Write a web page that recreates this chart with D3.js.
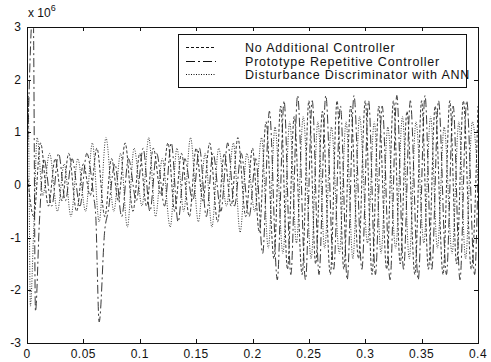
<!DOCTYPE html>
<html>
<head>
<meta charset="utf-8">
<script src="https://cdn.jsdelivr.net/npm/d3@7/dist/d3.min.js"></script>
<style>
  html, body { margin: 0; padding: 0; background: #fff; }
  svg { display: block; }
  text { font-family: "Liberation Sans", Arial, sans-serif; fill: #111; }
</style>
</head>
<body>
<svg id="chart" width="491" height="362"></svg>
<script>
// Turning points of each response (time in s, value in units of 1e6)
const tNoCtrl = [0.000, 0.006, 0.012, 0.019, 0.025, 0.031, 0.037, 0.044, 0.050, 0.056,
  0.062, 0.069, 0.075, 0.081, 0.087, 0.094, 0.100, 0.106, 0.112, 0.119,
  0.125, 0.131, 0.137, 0.144, 0.150, 0.156, 0.162, 0.169, 0.175, 0.181,
  0.187, 0.194, 0.200, 0.206, 0.212, 0.219, 0.225, 0.231, 0.237, 0.244,
  0.250, 0.256, 0.262, 0.269, 0.275, 0.281, 0.287, 0.294, 0.300, 0.306,
  0.312, 0.319, 0.325, 0.331, 0.337, 0.344, 0.350, 0.356, 0.362, 0.369,
  0.375, 0.381, 0.387, 0.394, 0.400];
const vNoCtrl = [0.3, -0.6, 0.8, -0.4, 0.5, -0.3, 0.6, -0.5, 0.4, -0.2,
  0.7, -0.6, 0.5, -0.3, 0.8, -0.5, 0.6, -0.4, 0.7, -0.2,
  0.8, -0.5, 0.6, -0.6, 0.7, -0.3, 0.8, -0.7, 0.6, -0.4,
  0.9, -0.6, 0.7, -0.9, 1.2, -1.4, 1.5, -1.6, 1.3, -1.7,
  1.6, -1.5, 1.4, -1.7, 1.6, -1.6, 1.5, -1.4, 1.6, -1.7,
  1.5, -1.6, 1.6, -1.5, 1.4, -1.7, 1.6, -1.6, 1.5, -1.7,
  1.6, -1.5, 1.6, -1.6, 1.5];

const tRepet = [0.000, 0.0055, 0.0075, 0.011, 0.015, 0.022, 0.028, 0.034, 0.040, 0.047,
  0.053, 0.059, 0.061, 0.064, 0.069, 0.072, 0.078, 0.084, 0.090, 0.097,
  0.103, 0.109, 0.115, 0.122, 0.128, 0.134, 0.140, 0.147, 0.153, 0.159,
  0.165, 0.172, 0.178, 0.184, 0.190, 0.197, 0.203, 0.209, 0.215, 0.222,
  0.228, 0.234, 0.240, 0.247, 0.253, 0.259, 0.265, 0.272, 0.278, 0.284,
  0.290, 0.297, 0.303, 0.309, 0.315, 0.322, 0.328, 0.334, 0.340, 0.347,
  0.353, 0.359, 0.365, 0.372, 0.378, 0.384, 0.390, 0.397, 0.400];
const vRepet = [0.2, 3.4, -2.4, -0.7, 0.5, -0.4, 0.6, -0.3, 0.5, -0.4,
  0.6, -0.2, -0.6, -2.6, -0.85, -0.5, 0.4, -0.6, 0.5, -0.3,
  0.7, -0.5, 0.6, -0.4, 0.8, -0.7, 0.5, -0.3, 0.7, -0.6,
  0.6, -0.5, 0.8, -0.4, 0.6, -0.6, 0.5, -1.3, 1.4, -1.8,
  1.6, -1.7, 1.7, -1.8, 1.6, -1.7, 1.7, -1.6, 1.5, -1.8,
  1.7, -1.6, 1.6, -1.7, 1.5, -1.8, 1.7, -1.6, 1.6, -1.8,
  1.7, -1.6, 1.6, -1.7, 1.5, -1.8, 1.6, -1.7, 0.2];

const tAnn = [0.000, 0.001, 0.003, 0.006, 0.009, 0.014, 0.020, 0.027, 0.033, 0.039,
  0.045, 0.052, 0.058, 0.064, 0.070, 0.077, 0.083, 0.089, 0.095, 0.102,
  0.108, 0.114, 0.120, 0.127, 0.133, 0.139, 0.145, 0.152, 0.158, 0.164,
  0.170, 0.177, 0.183, 0.189, 0.195, 0.202, 0.208, 0.214, 0.220, 0.227,
  0.233, 0.239, 0.245, 0.252, 0.258, 0.264, 0.270, 0.277, 0.283, 0.289,
  0.295, 0.302, 0.308, 0.314, 0.320, 0.327, 0.333, 0.339, 0.345, 0.352,
  0.358, 0.364, 0.370, 0.377, 0.383, 0.389, 0.395, 0.400];
const vAnn = [0.0, 1.7, -2.3, -0.8, 0.9, -0.2, 0.6, -0.5, 0.4, -0.6,
  0.5, -0.5, 0.8, -0.7, 0.9, -0.5, 0.6, -0.8, 0.7, -0.4,
  0.9, -0.6, 0.5, -0.8, 0.7, -0.5, 0.9, -0.7, 0.6, -0.8,
  0.7, -0.4, 0.8, -0.9, 0.6, -0.5, 0.9, -1.2, 1.1, -1.3,
  1.2, -1.1, 1.3, -1.4, 1.2, -1.2, 1.1, -1.3, 1.2, -1.4,
  1.3, -1.1, 1.2, -1.3, 1.1, -1.2, 1.3, -1.4, 1.2, -1.1,
  1.3, -1.2, 1.1, -1.3, 1.2, -1.4, 1.2, 0.1];

const seriesNames = ["No Additional Controller", "Prototype Repetitive Controller", "Disturbance Discriminator with ANN"];
const xTicks = [0, 0.05, 0.1, 0.15, 0.2, 0.25, 0.3, 0.35, 0.4];
const xTickLabels = ["0", "0.05", "0.1", "0.15", "0.2", "0.25", "0.3", "0.35", "0.4"];
const yTicks = [-3, -2, -1, 0, 1, 2, 3];

const svg = d3.select("#chart");
const plot = { left: 27, right: 478, top: 27, bottom: 343 };

const x = d3.scaleLinear().domain([0, 0.4]).range([plot.left, plot.right]);
const y = d3.scaleLinear().domain([-3, 3]).range([plot.bottom, plot.top]);

svg.append("rect").attr("width", 491).attr("height", 362).attr("fill", "#fff");

svg.append("defs").append("clipPath").attr("id", "plotClip")
  .append("rect")
  .attr("x", plot.left).attr("y", plot.top)
  .attr("width", plot.right - plot.left).attr("height", plot.bottom - plot.top);

const series = [
  { name: seriesNames[0], pts: d3.zip(tNoCtrl, vNoCtrl), dash: "3,2" },
  { name: seriesNames[1], pts: d3.zip(tRepet, vRepet), dash: "9,3,2,3" },
  { name: seriesNames[2], pts: d3.zip(tAnn, vAnn), dash: "1,1.5" }
];

const line = d3.line()
  .x(d => x(d[0]))
  .y(d => y(d[1]))
  .curve(d3.curveMonotoneX);

const lines = svg.append("g").attr("clip-path", "url(#plotClip)");
series.forEach(s => {
  lines.append("path")
    .datum(s.pts)
    .attr("d", line)
    .attr("fill", "none")
    .attr("stroke", "#222")
    .attr("stroke-width", 0.9)
    .attr("stroke-dasharray", s.dash);
});

// Axes: box with inward ticks on every side
const tickLen = 4;
const axisG = svg.append("g").attr("stroke", "#111").attr("stroke-width", 1).attr("fill", "none");
axisG.append("rect")
  .attr("x", plot.left + 0.5).attr("y", plot.top + 0.5)
  .attr("width", plot.right - plot.left).attr("height", plot.bottom - plot.top);

xTicks.forEach(t => {
  const px = Math.round(x(t)) + 0.5;
  axisG.append("line").attr("x1", px).attr("x2", px).attr("y1", plot.bottom).attr("y2", plot.bottom - tickLen);
  axisG.append("line").attr("x1", px).attr("x2", px).attr("y1", plot.top).attr("y2", plot.top + tickLen);
});
yTicks.forEach(t => {
  const py = Math.round(y(t)) + 0.5;
  axisG.append("line").attr("x1", plot.left).attr("x2", plot.left + tickLen).attr("y1", py).attr("y2", py);
  axisG.append("line").attr("x1", plot.right).attr("x2", plot.right - tickLen).attr("y1", py).attr("y2", py);
});

const labels = svg.append("g").attr("font-size", 12);
xTicks.forEach((t, i) => {
  labels.append("text")
    .attr("x", x(t)).attr("y", 358)
    .attr("text-anchor", "middle")
    .attr("letter-spacing", 0.5)
    .text(xTickLabels[i]);
});
yTicks.forEach(t => {
  labels.append("text")
    .attr("x", 21).attr("y", y(t) + 4)
    .attr("text-anchor", "end")
    .text(String(t));
});

// Exponent marker above the y axis
const expo = svg.append("text").attr("x", 28).attr("y", 17).attr("font-size", 12);
expo.append("tspan").text("x 10");
expo.append("tspan").attr("dy", -6).attr("font-size", 9).text("6");

// Legend
const lg = svg.append("g");
lg.append("rect")
  .attr("x", 178.5).attr("y", 34.5).attr("width", 288).attr("height", 53)
  .attr("fill", "#fff").attr("stroke", "#111").attr("stroke-width", 1);
const rowY = [47, 61, 74];
series.forEach((s, i) => {
  lg.append("line")
    .attr("x1", 186).attr("x2", 216)
    .attr("y1", rowY[i] + 0.5).attr("y2", rowY[i] + 0.5)
    .attr("stroke", "#111").attr("stroke-width", 1)
    .attr("stroke-dasharray", s.dash);
  lg.append("text")
    .attr("x", 245).attr("y", rowY[i] + 4.5)
    .attr("font-size", 12.5)
    .attr("letter-spacing", 0.8)
    .text(s.name);
});
</script>
</body>
</html>
